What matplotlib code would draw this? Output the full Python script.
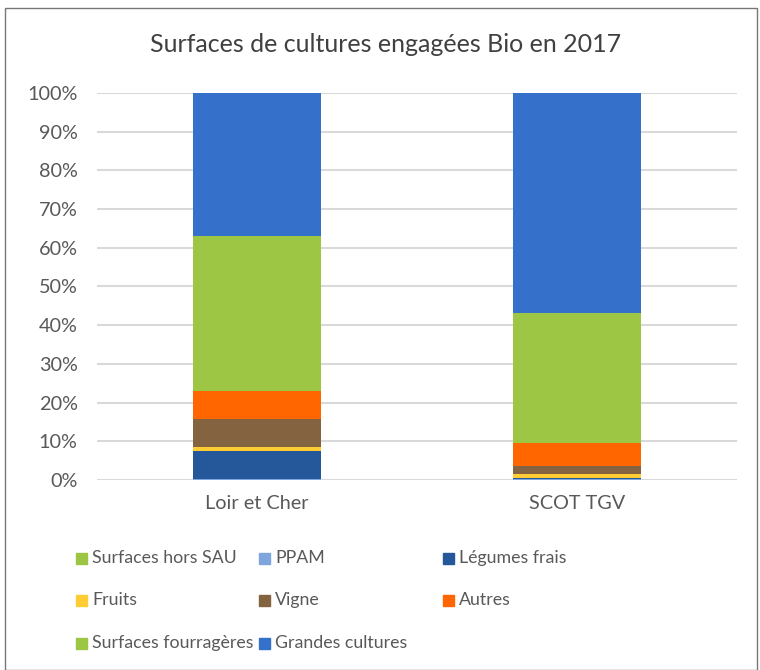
import numpy as np
import matplotlib
matplotlib.use("Agg")
import matplotlib.pyplot as plt
from matplotlib.patches import Rectangle
from matplotlib.ticker import PercentFormatter

plt.rcParams['font.family'] = ['Lato', 'DejaVu Sans']

# Données (% des surfaces engagées bio)
zones = ["Loir et Cher", "SCOT TGV"]
series = ["Surfaces hors SAU", "PPAM", "Légumes frais", "Fruits", "Vigne",
          "Autres", "Surfaces fourragères", "Grandes cultures"]
hors_sau = [0.1, 0.1]
ppam = [0.2, 0.1]
legumes = [7.3, 0.3]
fruits = [0.8, 1.0]
vigne = [7.3, 2.0]
autres = [7.3, 6.0]
fourrageres = [40.0, 33.7]
grandes = [37.0, 56.8]

colors = ["#9DC544", "#7FA6DC", "#24589A", "#FFCC33", "#846440",
          "#FF6600", "#9DC645", "#3571CB"]

values = [hors_sau, ppam, legumes, fruits, vigne, autres, fourrageres, grandes]

fig = plt.figure(figsize=(7.6, 6.7), dpi=100)
ax = fig.add_axes([0.1276, 0.2836, 0.8424, 0.5776])

x = np.arange(len(zones))
bottom = np.zeros(len(zones))
for name, vals, col in zip(series, values, colors):
    ax.bar(x, vals, bottom=bottom, width=0.4, color=col, label=name, zorder=3)
    bottom += np.array(vals)

ax.set_xlim(-0.5, 1.5)
ax.set_ylim(0, 100)
ax.set_yticks(np.arange(0, 101, 10))
ax.yaxis.set_major_formatter(PercentFormatter(decimals=0))
ax.set_xticks(x)
ax.set_xticklabels(zones)
ax.grid(axis='y', color='#D9D9D9', linewidth=1.5, zorder=0)
for s in ax.spines.values():
    s.set_visible(False)
ax.tick_params(axis='both', length=0, labelsize=14.3, labelcolor='#595959')
ax.tick_params(axis='x', pad=11)
ax.tick_params(axis='y', pad=14)

fig.text(0.507, 0.933, "Surfaces de cultures engagées Bio en 2017",
         ha='center', va='center', fontsize=18, color='#404040')

# légende manuelle, remplie ligne par ligne
col_x = [76, 259, 443]
row_y = [558, 600, 643]
W, H = 760, 670
for i, (name, col) in enumerate(zip(series, colors)):
    r, c = divmod(i, 3)
    px, py = col_x[c], row_y[r]
    fig.patches.append(Rectangle((px / W, 1 - (py + 5.5) / H), 11 / W, 11 / H,
                                 transform=fig.transFigure, color=col))
    fig.text((px + 16) / W, 1 - py / H, name, ha='left', va='center',
             fontsize=12.8, color='#595959')

# cadre
fig.patches.append(Rectangle((5 / W, 0), 752 / W, 662 / H, transform=fig.transFigure,
                             fill=False, edgecolor='#767676', linewidth=1))

fig.savefig("out.png", dpi=100)
